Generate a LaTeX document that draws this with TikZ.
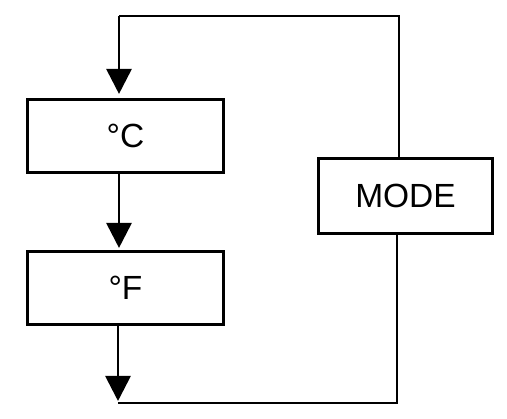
\documentclass[tikz,border=0pt]{standalone}
\usepackage{fontspec}
\setmainfont{Liberation Sans}
\usetikzlibrary{arrows.meta}
\begin{document}
\begin{tikzpicture}[x=1pt,y=-1pt,
  box/.style={draw,line width=3.1pt,minimum width=196pt,minimum height=73pt,inner sep=0pt,font=\fontsize{33.5}{40}\selectfont},
  conn/.style={line width=2.8pt},
  arr/.style={conn,-{Triangle[length=25pt,width=25pt]}}]
\useasboundingbox (0,0) rectangle (507,419);
\node[box] (C) at (125.5,136) {°C};
\node[box] (F) at (125.5,288) {°F};
\node[box,minimum width=174pt,minimum height=75pt] (M) at (405.5,196) {MODE};
\coordinate (tl) at (119,16);
\coordinate (tr) at (399,16);
\coordinate (bl) at (118,403);
\coordinate (br) at (397,403);
\draw[conn] (tr |- M.north) -- (tr) -- (tl);
\draw[arr,shorten >=4pt] (tl) -- (tl |- C.north);
\draw[arr,shorten >=2pt] (tl |- C.south) -- (tl |- F.north);
\draw[arr,shorten >=2pt] (bl |- F.south) -- (bl);
\draw[conn] (bl) -- (br) -- (br |- M.south);
\end{tikzpicture}
\end{document}
